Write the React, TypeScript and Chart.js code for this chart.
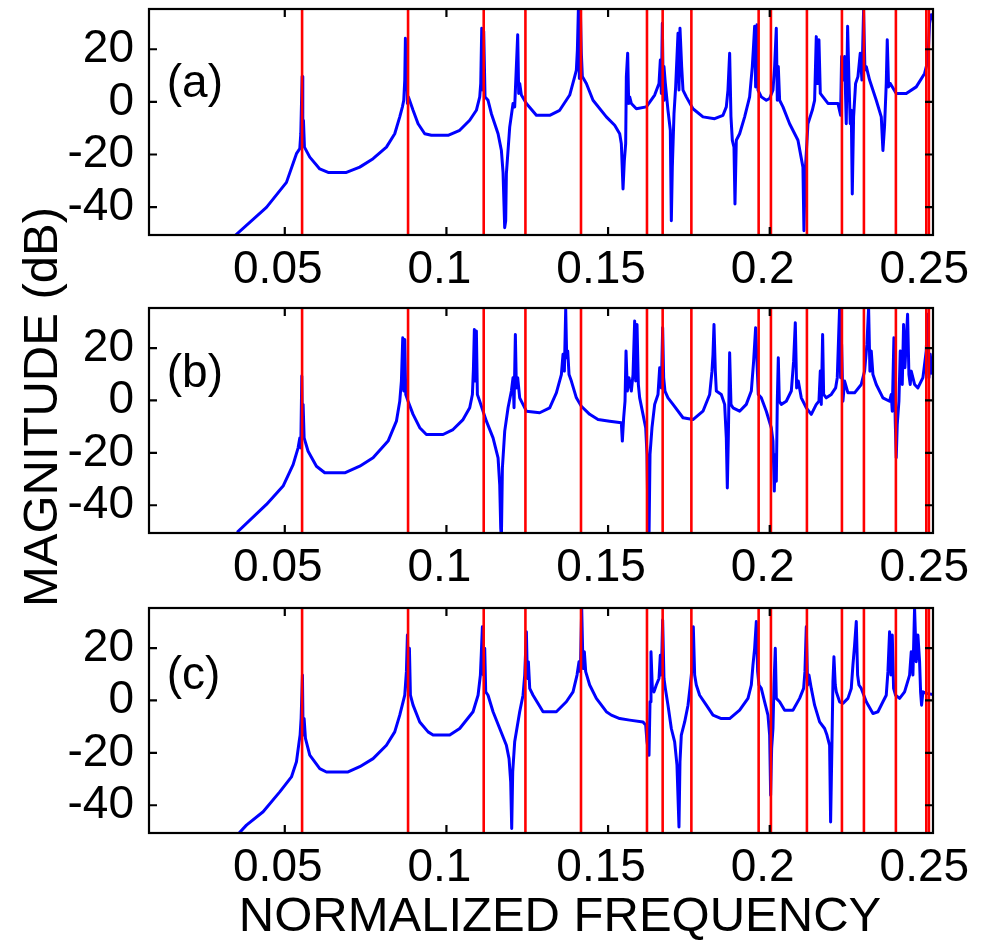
import React, { useEffect, useRef } from "react";
import { Chart, registerables } from "chart.js";

Chart.register(...registerables);

const FONT = '"Liberation Sans", Arial, Helvetica, sans-serif';

const X_MIN = 0.008;
const X_MAX = 0.2505;
const Y_MIN = -50.6;
const Y_MAX = 35.3;
const X_TICKS = [0.05, 0.1, 0.15, 0.2, 0.25];
const Y_TICKS = [-40, -20, 0, 20];

// Red markers (normalized frequencies), identical for the three panels
const RED_LINES = [
  0.05535, 0.08813, 0.11153, 0.12443, 0.14162, 0.16203, 0.16688, 0.17576,
  0.19657, 0.20037, 0.2115, 0.22233, 0.22913, 0.23902, 0.24842, 0.24923,
];

const PANEL_LABELS = ["(a)", "(b)", "(c)"];
const X_TITLE = "NORMALIZED FREQUENCY";
const Y_TITLE = "MAGNITUDE (dB)";

// ---------- panel (a) ----------
const FREQ_A = [
  0.0348, 0.04433, 0.05052, 0.05361, 0.05464, 0.05495, 0.05536, 0.05557, 0.05577, 0.05608,
  0.05773, 0.06082, 0.0634, 0.06907, 0.07319, 0.07731, 0.08144, 0.08401, 0.08556, 0.08638,
  0.0868, 0.08711, 0.08731, 0.08752, 0.08772, 0.08793, 0.08824, 0.08968, 0.09123, 0.09329,
  0.09535, 0.1005, 0.10411, 0.1072, 0.10926, 0.1103, 0.11061, 0.11092, 0.11122, 0.11153,
  0.11194, 0.11287, 0.1139, 0.11597, 0.117, 0.11751, 0.11802, 0.11833, 0.11854, 0.11957,
  0.1206, 0.12111, 0.12163, 0.12204, 0.12235, 0.12266, 0.12318, 0.12473, 0.12782, 0.12885,
  0.13194, 0.13503, 0.13813, 0.13967, 0.14019, 0.1405, 0.14081, 0.14112, 0.14142, 0.14173,
  0.14204, 0.14328, 0.14534, 0.14946, 0.15204, 0.15359, 0.1541, 0.15462, 0.15503, 0.15544,
  0.15565, 0.15606, 0.15637, 0.15668, 0.15719, 0.15874, 0.16183, 0.16441, 0.16575, 0.16616,
  0.16647, 0.16678, 0.16709, 0.16729, 0.16771, 0.16853, 0.16925, 0.16956, 0.16987, 0.17039,
  0.1709, 0.17163, 0.17193, 0.17224, 0.17276, 0.17317, 0.1742, 0.17626, 0.17935, 0.18296,
  0.18554, 0.18657, 0.18708, 0.1876, 0.18801, 0.18843, 0.18894, 0.18925, 0.18966, 0.19069,
  0.19224, 0.19378, 0.19461, 0.19492, 0.19533, 0.19564, 0.19605, 0.19636, 0.19739, 0.19894,
  0.19997, 0.201, 0.20151, 0.20203, 0.20234, 0.20265, 0.20306, 0.20409, 0.20615, 0.20873,
  0.21027, 0.21058, 0.211, 0.21182, 0.21316, 0.21388, 0.2144, 0.21481, 0.21522, 0.21564,
  0.21646, 0.21801, 0.2211, 0.22192, 0.22223, 0.22264, 0.22316, 0.22367, 0.22409, 0.2245,
  0.22491, 0.22522, 0.22553, 0.22594, 0.22656, 0.22728, 0.228, 0.22852, 0.22903, 0.22945,
  0.22986, 0.23089, 0.23295, 0.2345, 0.23501, 0.23553, 0.23604, 0.23635, 0.23676, 0.23728,
  0.23913, 0.24223, 0.24532, 0.2479, 0.24893, 0.24944, 0.24996, 0.25048,
];
const MAG_A = [
  -50.6, -40.1, -30.6, -19.7, -17.8, -12.1, 9.6, -14.6, -7.0, -17.2,
  -21.0, -25.5, -26.8, -26.8, -24.8, -21.6, -17.2, -12.1, -5.7, -1.9,
  0.6, 8.3, 24.2, 5.7, 21.0, -0.6, 1.9, -3.2, -8.3, -12.1,
  -12.7, -12.7, -10.8, -7.0, -3.2, 1.9, 7.0, 28.0, 4.5, 26.8,
  1.9, 0.6, -4.5, -12.1, -18.5, -26.8, -47.8, -45.2, -27.4, -9.6,
  -0.6, -1.9, 13.4, 25.5, 3.2, 7.0, 2.6, -0.6, -5.1, -5.1,
  -5.1, -3.2, 2.6, 9.6, 12.1, 19.7, 35.0, 8.9, 35.0, 18.5,
  9.6, 7.0, 0.6, -5.7, -8.9, -12.1, -15.9, -33.1, -22.3, -15.9,
  9.6, 18.5, -0.6, 1.9, -0.6, -2.6, -1.9, 2.6, 7.0, 15.9,
  3.2, 29.9, 0.6, 13.4, 7.0, -3.2, -10.8, -45.2, -24.8, -4.5,
  5.7, 26.1, 4.5, 28.0, 13.4, 4.5, 1.9, -2.6, -5.7, -6.4,
  -5.1, -1.9, 4.5, 18.5, -5.7, -14.6, -17.2, -38.8, -14.6, -12.1,
  -5.7, 1.9, 13.4, 19.7, 28.7, 5.7, 29.3, 4.5, 1.9, 0.6,
  1.3, 4.5, 13.4, 28.0, 0.6, 13.4, 0.6, -1.9, -8.3, -14.6,
  -24.8, -49.0, -26.1, -8.3, -3.2, 0.6, 24.8, 7.0, 23.6, 3.2,
  1.9, -0.6, -0.6, -5.1, 17.2, 8.3, 17.2, -8.3, 28.7, 8.3,
  -8.3, -3.2, -35.0, -5.7, 7.0, 9.6, 18.5, 8.3, 35.0, 12.1,
  13.4, 8.3, 0.6, -5.7, -18.5, -8.9, 7.0, 23.6, 5.7, 7.0,
  3.2, 3.2, 5.7, 10.8, 15.9, 29.9, 33.1, 31.2,
];

// ---------- panel (b) ----------
const FREQ_B = [
  0.03526, 0.04433, 0.04948, 0.05258, 0.05412, 0.05464, 0.05495, 0.05526, 0.05546, 0.05567,
  0.05598, 0.05721, 0.05979, 0.06237, 0.06855, 0.07319, 0.07731, 0.08195, 0.08453, 0.08556,
  0.08607, 0.08649, 0.0868, 0.08711, 0.08742, 0.08814, 0.08968, 0.09174, 0.0938, 0.09896,
  0.10205, 0.10514, 0.1072, 0.10803, 0.10834, 0.10864, 0.10895, 0.10926, 0.10957, 0.1103,
  0.11236, 0.11442, 0.11597, 0.11648, 0.11679, 0.117, 0.11731, 0.11803, 0.11906, 0.12009,
  0.1206, 0.12091, 0.12132, 0.12163, 0.12204, 0.12266, 0.12473, 0.12885, 0.13194, 0.134,
  0.13555, 0.13606, 0.13648, 0.13689, 0.1372, 0.13751, 0.13792, 0.13864, 0.14019, 0.14173,
  0.14431, 0.14689, 0.15049, 0.1541, 0.15441, 0.15482, 0.15524, 0.15555, 0.15596, 0.15647,
  0.15719, 0.15771, 0.15822, 0.15853, 0.15895, 0.15936, 0.15977, 0.1608, 0.16163, 0.16204,
  0.16235, 0.16266, 0.16297, 0.16358, 0.16441, 0.16544, 0.16596, 0.16647, 0.16688, 0.16719,
  0.1676, 0.16853, 0.17008, 0.17317, 0.17626, 0.17935, 0.18142, 0.18214, 0.18245, 0.18276,
  0.18317, 0.18348, 0.18502, 0.18605, 0.18657, 0.18688, 0.18719, 0.1876, 0.18801, 0.18863,
  0.19069, 0.19275, 0.1943, 0.19502, 0.19564, 0.19605, 0.19646, 0.19739, 0.19894, 0.20048,
  0.201, 0.20141, 0.20172, 0.20203, 0.20234, 0.20265, 0.20296, 0.20358, 0.20512, 0.20667,
  0.20739, 0.20791, 0.20832, 0.20883, 0.20976, 0.21131, 0.21285, 0.2144, 0.21522, 0.21564,
  0.21594, 0.21636, 0.21667, 0.21749, 0.21904, 0.22038, 0.22089, 0.2213, 0.22161, 0.22192,
  0.22223, 0.22264, 0.22316, 0.22419, 0.22625, 0.22831, 0.22934, 0.23006, 0.23058, 0.23099,
  0.2314, 0.23192, 0.23295, 0.23501, 0.23707, 0.23759, 0.2379, 0.23841, 0.23882, 0.23913,
  0.23944, 0.23996, 0.24037, 0.24099, 0.2414, 0.24181, 0.24223, 0.24264, 0.24305, 0.24346,
  0.24377, 0.2448, 0.24583, 0.24738, 0.24841, 0.24882, 0.24924, 0.24965, 0.25027,
];
const MAG_B = [
  -50.3, -39.7, -32.7, -24.5, -18.1, -14.3, -18.1, 9.3, -10.4, -1.5,
  -14.3, -19.4, -25.1, -27.6, -27.6, -25.1, -21.9, -15.5, -7.9, -0.3,
  7.4, 23.9, 3.6, 23.3, 2.3, -0.3, -5.3, -10.4, -13.0, -13.0,
  -11.1, -7.3, -2.8, 2.3, 11.8, 27.1, 7.4, 26.5, 2.3, -0.3,
  -7.9, -14.3, -21.9, -32.1, -48.7, -52.5, -25.7, -11.7, -2.8, 3.6,
  8.7, -2.8, 25.2, 4.8, 8.7, 1.0, -4.1, -4.7, -2.8, 2.9,
  9.9, 17.6, 11.2, 34.8, 16.3, 18.9, 9.9, 7.4, 1.0, -2.2,
  -5.3, -7.3, -7.9, -8.5, -15.5, -6.6, -0.3, 18.9, 3.6, 8.7,
  3.6, 9.9, 30.3, 7.4, 29.0, 6.1, 1.0, -5.3, -10.4, -20.6,
  -48.7, -52.5, -20.6, -10.4, -1.5, 2.3, 12.5, 4.8, 27.8, 8.7,
  3.6, 1.0, -1.5, -6.6, -7.3, -4.1, 2.3, 11.2, 17.6, 29.0,
  11.2, 3.6, 2.3, -1.5, -14.3, -33.4, -14.3, 18.2, -1.5, -2.8,
  -4.1, -1.5, 3.6, 15.0, 27.8, 15.0, 2.3, 1.0, -4.1, -10.4,
  -15.5, -34.6, -20.6, -30.8, -0.3, 16.3, -0.3, -1.5, -0.3, 3.6,
  15.0, 29.7, 4.8, 7.4, 1.0, -2.8, -5.3, -1.5, -0.3, 11.2,
  -1.5, 25.2, 2.3, 1.0, 2.3, 4.8, 8.7, 23.9, 35.4, 8.7,
  21.4, -0.3, 7.4, 2.9, 2.9, 6.1, 11.2, 21.4, 35.4, 11.2,
  18.9, 9.9, 6.1, 1.0, -0.3, 2.3, -4.1, 23.9, -7.9, -21.9,
  -9.2, -0.3, 18.9, 6.1, 29.0, 12.5, 22.7, 32.9, 9.9, 6.1,
  11.2, 6.1, 4.8, 8.7, 18.9, 32.9, 8.7, 17.6, 9.9,
];

// ---------- panel (c) ----------
const FREQ_C = [
  0.03588, 0.03815, 0.0433, 0.04845, 0.05206, 0.05361, 0.05443, 0.05474, 0.05505, 0.05546,
  0.05567, 0.05598, 0.05639, 0.05773, 0.06082, 0.06288, 0.06958, 0.07319, 0.07731, 0.08144,
  0.08401, 0.08556, 0.08659, 0.08711, 0.08762, 0.08793, 0.08824, 0.08855, 0.08886, 0.08968,
  0.09174, 0.09432, 0.09587, 0.10102, 0.10411, 0.10823, 0.10978, 0.1105, 0.11081, 0.11112,
  0.11143, 0.11184, 0.11215, 0.11287, 0.11442, 0.11648, 0.11854, 0.11937, 0.11988, 0.12019,
  0.1205, 0.12111, 0.12266, 0.12369, 0.12421, 0.12473, 0.12504, 0.12534, 0.12576, 0.12679,
  0.12988, 0.134, 0.13709, 0.13916, 0.14039, 0.14101, 0.14142, 0.14184, 0.14225, 0.14266,
  0.14307, 0.14431, 0.14637, 0.14946, 0.15101, 0.15359, 0.15668, 0.1608, 0.16163, 0.16204,
  0.16266, 0.16297, 0.16327, 0.16369, 0.1642, 0.16492, 0.16575, 0.16616, 0.16647, 0.16688,
  0.16729, 0.16771, 0.16853, 0.16956, 0.17059, 0.17131, 0.17193, 0.17224, 0.17265, 0.17369,
  0.17472, 0.17544, 0.17595, 0.17636, 0.17678, 0.17729, 0.17832, 0.18039, 0.18245, 0.18502,
  0.1876, 0.19069, 0.19327, 0.1943, 0.19481, 0.19533, 0.19585, 0.19626, 0.19667, 0.19739,
  0.19842, 0.19945, 0.19997, 0.20028, 0.20059, 0.201, 0.20131, 0.20172, 0.20203, 0.20306,
  0.20461, 0.20718, 0.20924, 0.21048, 0.21089, 0.21131, 0.21172, 0.21213, 0.21285, 0.21388,
  0.21543, 0.21697, 0.2177, 0.21852, 0.21883, 0.21924, 0.21955, 0.21986, 0.22027, 0.22058,
  0.22161, 0.22264, 0.22419, 0.22522, 0.22573, 0.22625, 0.22677, 0.22718, 0.22759, 0.22831,
  0.22986, 0.23192, 0.23347, 0.23501, 0.23604, 0.23656, 0.23707, 0.23749, 0.2379, 0.23831,
  0.23893, 0.24017, 0.24171, 0.24326, 0.24377, 0.24429, 0.2448, 0.24532, 0.24583, 0.24635,
  0.24666, 0.24697, 0.24738, 0.24841, 0.25048,
];
const MAG_C = [
  -50.6, -47.6, -42.5, -34.9, -29.2, -23.4, -15.8, -13.2, -6.9, 9.7,
  -13.2, -6.9, -14.5, -20.9, -26.0, -27.3, -27.3, -25.3, -22.2, -17.1,
  -12.0, -5.6, -0.5, 2.0, 11.0, 25.0, 3.3, 19.9, 2.0, -1.8,
  -8.2, -12.0, -13.2, -13.2, -10.7, -4.3, 2.0, 9.7, 18.6, 28.1,
  9.7, 19.9, 3.3, 2.0, -4.3, -10.7, -17.1, -22.2, -31.1, -48.9,
  -27.3, -15.8, -4.3, 2.0, 9.7, 26.2, 8.4, 14.8, 4.6, 2.0,
  -4.3, -4.3, -0.5, 3.3, 9.7, 14.8, 11.0, 35.2, 12.2, 18.6,
  11.0, 5.9, 0.8, -4.3, -5.6, -6.9, -7.5, -8.2, -9.4, -15.8,
  -20.9, -0.5, 18.6, 4.6, 3.3, 5.9, 8.4, 17.3, 9.7, 30.7,
  8.4, 4.6, -1.8, -10.7, -15.8, -24.7, -48.3, -23.4, -13.2, -8.2,
  -1.8, 5.9, 12.2, 28.1, 9.7, 5.9, 2.0, -1.8, -5.6, -6.9,
  -6.9, -3.7, 0.8, 5.9, 13.5, 19.9, 30.1, 11.0, 5.9, 4.6,
  -0.5, -5.6, -13.2, -36.2, -18.3, -10.7, 5.9, 19.9, 0.8, -0.5,
  -3.7, -3.7, 0.8, 4.6, 11.0, 28.1, 5.9, 9.7, 4.6, -1.8,
  -8.2, -10.7, -13.2, -17.1, -46.4, -17.1, 7.1, 16.7, 5.9, 3.3,
  -0.5, -1.1, 0.8, 4.6, 13.5, 21.1, 30.1, 9.7, 5.9, 4.6,
  -0.5, -5.0, -4.3, -0.5, 2.0, 11.0, 26.2, 9.7, 25.0, 4.6,
  2.0, 0.8, 3.3, 9.7, 18.6, 9.7, 35.2, 14.8, 25.0, 14.8,
  3.3, -1.8, 3.3, 2.7, 2.3,
];

// panel label anchor (data coordinates: frequency, dB)
const LABEL_FREQ = [0.0135, 0.0135, 0.0135];
const LABEL_DB = [8.3, 11.5, 10.6];

const PANELS = [
  { freq: FREQ_A, mag: MAG_A },
  { freq: FREQ_B, mag: MAG_B },
  { freq: FREQ_C, mag: MAG_C },
];

const decoPlugin = {
  id: "deco",
  afterDatasetsDraw(chart: any, _args: any, opts: any) {
    const { ctx, chartArea: a, scales } = chart;
    const xs = scales.x;
    const ys = scales.y;
    ctx.save();
    ctx.beginPath();
    ctx.rect(a.left, a.top, a.right - a.left, a.bottom - a.top);
    ctx.clip();
    ctx.strokeStyle = "#ff0000";
    ctx.lineWidth = 2.6;
    for (const f of RED_LINES) {
      const px = xs.getPixelForValue(f);
      ctx.beginPath();
      ctx.moveTo(px, a.top);
      ctx.lineTo(px, a.bottom);
      ctx.stroke();
    }
    ctx.restore();

    ctx.save();
    ctx.strokeStyle = "#000";
    ctx.lineWidth = 2.2;
    ctx.strokeRect(a.left, a.top, a.right - a.left, a.bottom - a.top);
    const TL = 8;
    ctx.beginPath();
    for (const t of X_TICKS) {
      const px = xs.getPixelForValue(t);
      if (px < a.left + 2 || px > a.right - 2) continue;
      ctx.moveTo(px, a.bottom);
      ctx.lineTo(px, a.bottom - TL);
      ctx.moveTo(px, a.top);
      ctx.lineTo(px, a.top + TL);
    }
    for (const t of Y_TICKS) {
      const py = ys.getPixelForValue(t);
      ctx.moveTo(a.left, py);
      ctx.lineTo(a.left + TL, py);
      ctx.moveTo(a.right, py);
      ctx.lineTo(a.right - TL, py);
    }
    ctx.stroke();

    ctx.fillStyle = "#000";
    ctx.font = `46px ${FONT}`;
    ctx.textAlign = "left";
    ctx.textBaseline = "middle";
    ctx.fillText(opts.label, xs.getPixelForValue(opts.lx), ys.getPixelForValue(opts.ly) + 4);

    if (opts.xTitle) {
      ctx.font = `49px ${FONT}`;
      ctx.textAlign = "center";
      ctx.fillText(opts.xTitle, (a.left + a.right) / 2 + 19, a.bottom + 84.5);
    }
    ctx.restore();
  },
};

function makeConfig(i: number): any {
  const p = PANELS[i];
  const last = i === 2;
  const topPad = i === 0 ? 9 : 8;
  const axisH = last ? 110 : i === 0 ? 65 : 67;
  return {
    type: "line",
    data: {
      datasets: [
        {
          data: p.freq.map((f, k) => ({ x: f, y: p.mag[k] })),
          borderColor: "#0000ff",
          borderWidth: 3,
          borderJoinStyle: "round",
          pointRadius: 0,
          tension: 0,
          fill: false,
        },
      ],
    },
    options: {
      animation: false,
      responsive: false,
      events: [],
      layout: { padding: { top: topPad, right: 48, left: 0, bottom: 0 } },
      plugins: {
        legend: { display: false },
        tooltip: { enabled: false },
        deco: {
          label: PANEL_LABELS[i],
          lx: LABEL_FREQ[i],
          ly: LABEL_DB[i],
          xTitle: last ? X_TITLE : "",
        },
      },
      scales: {
        x: {
          type: "linear",
          min: X_MIN,
          max: X_MAX,
          grid: { display: false, drawTicks: false },
          border: { display: false },
          afterBuildTicks: (s: any) => {
            s.ticks = X_TICKS.map((v) => ({ value: v }));
          },
          afterFit: (s: any) => {
            s.height = axisH;
            s.paddingLeft = 0;
            s.paddingRight = 0;
          },
          ticks: {
            font: { family: FONT, size: 46 },
            color: "#000",
            padding: 8,
            maxRotation: 0,
            minRotation: 0,
            autoSkip: false,
            labelOffset: -7,
            callback: (v: any) => String(v),
          },
        },
        y: {
          type: "linear",
          min: Y_MIN,
          max: Y_MAX,
          grid: { display: false, drawTicks: false },
          border: { display: false },
          afterBuildTicks: (s: any) => {
            s.ticks = Y_TICKS.map((v) => ({ value: v }));
          },
          afterFit: (s: any) => {
            s.width = 149;
            s.paddingTop = 0;
            s.paddingBottom = 0;
          },
          ticks: {
            font: { family: FONT, size: 46 },
            color: "#000",
            padding: 15,
            autoSkip: false,
            callback: (v: any) => String(v),
          },
        },
      },
    },
    plugins: [decoPlugin],
  };
}

export default function App() {
  const r0 = useRef<HTMLCanvasElement | null>(null);
  const r1 = useRef<HTMLCanvasElement | null>(null);
  const r2 = useRef<HTMLCanvasElement | null>(null);

  useEffect(() => {
    const refs = [r0, r1, r2];
    const charts = refs.map((r, i) => new Chart(r.current as HTMLCanvasElement, makeConfig(i)));
    return () => charts.forEach((c) => c.destroy());
  }, []);

  const canvasStyle = (top: number, h: number): React.CSSProperties => ({
    position: "absolute",
    left: 0,
    top,
    width: 981,
    height: h,
  });

  return (
    <div style={{ position: "absolute", left: 0, top: 0, width: 981, height: 943, background: "#fff", overflow: "hidden" }}>
      <canvas ref={r0} width={981} height={300} style={canvasStyle(0, 300)} />
      <canvas ref={r1} width={981} height={300} style={canvasStyle(300, 300)} />
      <canvas ref={r2} width={981} height={343} style={canvasStyle(600, 343)} />
      <div
        style={{
          position: "absolute",
          left: 40 - 250,
          top: 407 - 30,
          width: 500,
          height: 60,
          lineHeight: "60px",
          textAlign: "center",
          fontFamily: FONT,
          fontSize: 49,
          color: "#000",
          transform: "rotate(-90deg)",
          whiteSpace: "nowrap",
        }}
      >
        {Y_TITLE}
      </div>
    </div>
  );
}
